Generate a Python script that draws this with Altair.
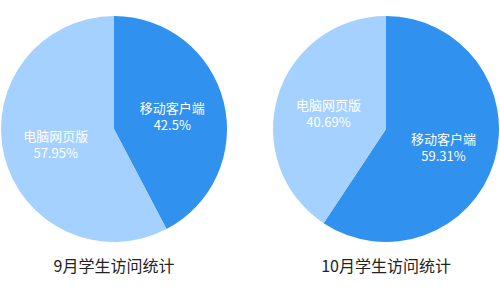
import altair as alt
import pandas as pd

categories = ["移动客户端", "电脑网页版"]
sep_values = [42.5, 57.95]
oct_values = [59.31, 40.69]
titles = ["9月学生访问统计", "10月学生访问统计"]
colors = ["#3191EE", "#A4D1FF"]

FONT = "Noto Sans CJK SC"


def pie(values, title):
    df = pd.DataFrame({
        "cat": categories,
        "val": values,
        "order": [0, 1],
        "label": [f"{c}\n{v:g}%" for c, v in zip(categories, values)],
    })
    base = alt.Chart(df).encode(
        theta=alt.Theta("val:Q", stack=True),
        order=alt.Order("order:Q"),
    )
    arc = base.mark_arc(radius=113).encode(
        color=alt.Color("cat:N", scale=alt.Scale(domain=categories, range=colors), legend=None)
    )
    txt = base.mark_text(radius=60, dy=-6, lineBreak="\n", lineHeight=17, baseline="middle",
                         color="white", fontSize=13, font=FONT).encode(text="label:N")
    return alt.layer(arc, txt).properties(
        width=228, height=258,
        title=alt.TitleParams(title, orient="bottom", fontSize=16, font=FONT,
                              fontWeight="normal", color="#222", offset=1),
    )


chart = alt.hconcat(pie(sep_values, titles[0]), pie(oct_values, titles[1]), spacing=44).properties(
    padding=0
).configure_view(stroke=None)

chart.save("out.html", embed_options={"renderer": "svg", "actions": False})
